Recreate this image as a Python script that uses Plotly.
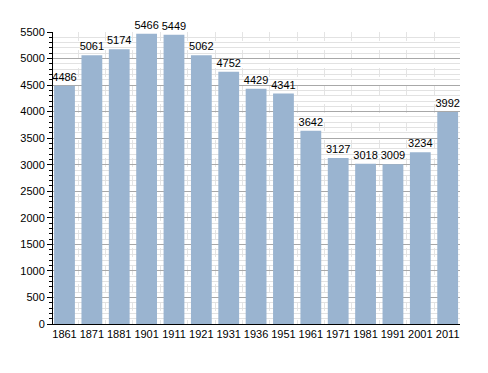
import plotly.graph_objects as go

years = ["1861", "1871", "1881", "1901", "1911", "1921", "1931", "1936", "1951",
         "1961", "1971", "1981", "1991", "2001", "2011"]
population = [4486, 5061, 5174, 5466, 5449, 5062, 4752, 4429, 4341,
              3642, 3127, 3018, 3009, 3234, 3992]
y_ticks = list(range(0, 5501, 500))

xpos = list(range(len(years)))
boundaries = [i + 0.5 for i in xpos[:-1]]

fig = go.Figure()
fig.add_trace(go.Bar(
    x=xpos, y=population,
    marker=dict(color="#9ab4d0", line=dict(width=0)),
    text=[str(v) for v in population], textposition="outside",
    constraintext="none",
    textfont=dict(family="Liberation Sans, Arial, sans-serif", size=11, color="black"),
    cliponaxis=False,
))
fig.update_layout(
    width=480, height=365,
    margin=dict(l=42, r=28, t=24, b=49),
    paper_bgcolor="white", plot_bgcolor="white",
    bargap=0.24,
    showlegend=False,
    font=dict(family="Liberation Sans, Arial, sans-serif", size=11, color="black"),
    xaxis=dict(
        range=[-0.42, 14.45],
        tickvals=xpos, ticktext=years, ticks="", showgrid=False,
        showline=True, linecolor="black", linewidth=1,
        tickfont=dict(size=11),
        minor=dict(tickvals=boundaries, showgrid=True, gridcolor="#e4e4e4",
                   griddash="dash", gridwidth=1, ticks=""),
        zeroline=False,
    ),
    yaxis=dict(
        range=[0, 5500], tickvals=y_ticks,
        ticks="outside", ticklen=5, tickcolor="black",
        showline=True, linecolor="black", linewidth=1,
        showgrid=True, gridcolor="#a8a8a8", gridwidth=1,
        minor=dict(dtick=100, ticks="outside", ticklen=3, tickcolor="black",
                   showgrid=True, gridcolor="#e2e2e2"),
        zeroline=False,
        tickfont=dict(size=11),
    ),
)
fig.write_html("out.html")
